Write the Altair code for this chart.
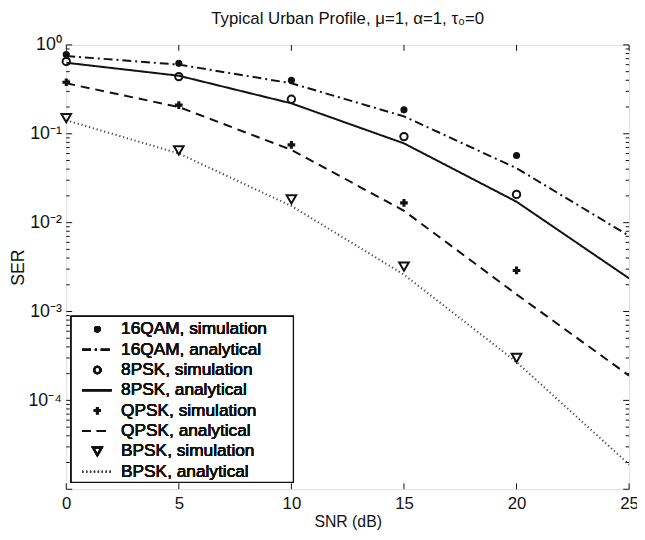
import altair as alt
import pandas as pd

# ---------------- data ----------------
snr_ana = [0, 5, 10, 15, 20, 25]
snr_sim = [0, 5, 10, 15, 20]

qam16_sim = [0.78, 0.62, 0.40, 0.186, 0.057]
qam16_ana = [0.75, 0.60, 0.37, 0.157, 0.041, 0.0071]
psk8_sim = [0.65, 0.44, 0.245, 0.093, 0.0208]
psk8_ana = [0.63, 0.45, 0.22, 0.078, 0.0172, 0.00236]
qpsk_sim = [0.38, 0.21, 0.075, 0.0167, 0.0029]
qpsk_ana = [0.37, 0.20, 0.066, 0.0136, 0.00156, 0.00019]
bpsk_sim = [0.15, 0.065, 0.0183, 0.0032, 0.0003]
bpsk_ana = [0.142, 0.06, 0.0154, 0.0026, 0.00027, 0.000019]

x_ticks = [0, 5, 10, 15, 20, 25]
y_major = [1e-5, 1e-4, 1e-3, 1e-2, 1e-1, 1.0]
y_minor = [k * 10.0 ** e for e in range(-5, 0) for k in range(2, 10)]

legend_labels = [
    "16QAM, simulation", "16QAM, analytical",
    "8PSK, simulation", "8PSK, analytical",
    "QPSK, simulation", "QPSK, analytical",
    "BPSK, simulation", "BPSK, analytical",
]

title_text = "Typical Urban Profile, \u03bc=1, \u03b1=1, \u03c4\u2080=0"

# ---------------- styling ----------------
FONT = "Liberation Sans"
W, H = 570, 450
INK = "#111111"

dash_styles = {
    "16QAM": [9, 4, 2, 4],
    "8PSK": [1, 0],
    "QPSK": [9, 6],
    "BPSK": [1.2, 2.8],
}
line_widths = {"16QAM": 2, "8PSK": 2, "QPSK": 2, "BPSK": 2}
line_colors = {"16QAM": INK, "8PSK": INK, "QPSK": INK, "BPSK": "#444444"}

xscale = alt.Scale(domain=[0, 25], nice=False, zero=False)
yscale = alt.Scale(type="log", domain=[1e-5, 1], nice=False)

ylabel_expr = (
    "datum.value > 0.5 ? '10\u2070' : datum.value > 0.05 ? '10\u207b\u00b9' : "
    "datum.value > 0.005 ? '10\u207b\u00b2' : datum.value > 0.0005 ? '10\u207b\u00b3' : "
    "datum.value > 0.00005 ? '10\u207b\u2074' : ''"
)

xaxis = alt.Axis(
    title="SNR (dB)", values=x_ticks, ticks=False, domain=False, grid=False,
    labelFont=FONT, labelFontSize=17, labelColor=INK, labelPadding=6,
    titleFont=FONT, titleFontSize=16, titleFontWeight="normal", titleColor=INK,
    titlePadding=3, labelFlush=False,
)
yaxis = alt.Axis(
    title="SER", values=[1e-4, 1e-3, 1e-2, 1e-1, 1.0], ticks=False, domain=False,
    grid=False, labelExpr=ylabel_expr,
    labelFont=FONT, labelFontSize=18, labelColor=INK, labelPadding=5,
    titleFont=FONT, titleFontSize=18, titleFontWeight="normal", titleColor=INK,
    titlePadding=1,
)

X = lambda f: alt.X(f, type="quantitative", scale=xscale, axis=xaxis)
Y = lambda f: alt.Y(f, type="quantitative", scale=yscale, axis=yaxis)

layers = []

# ---------------- analytical curves ----------------
series_ana = [("16QAM", qam16_ana), ("8PSK", psk8_ana), ("QPSK", qpsk_ana), ("BPSK", bpsk_ana)]
for name, vals in series_ana:
    df = pd.DataFrame({"snr": snr_ana, "ser": vals})
    layers.append(
        alt.Chart(df).mark_line(
            color=line_colors[name], strokeWidth=line_widths[name],
            strokeDash=dash_styles[name], clip=True,
        ).encode(x=X("snr"), y=Y("ser"))
    )

# ---------------- simulation markers ----------------
def sim_layer(vals, shape, size, filled, sw=2):
    df = pd.DataFrame({"snr": snr_sim, "ser": vals})
    return alt.Chart(df).mark_point(
        shape=shape, size=size, filled=filled,
        color=INK, strokeWidth=sw, opacity=1,
    ).encode(x=X("snr"), y=Y("ser"))

layers.append(sim_layer(qam16_sim, "circle", 52, True))
layers.append(sim_layer(psk8_sim, "circle", 56, False))
layers.append(sim_layer(qpsk_sim, "cross", 60, True, 0))
layers.append(sim_layer(bpsk_sim, "triangle-down", 95, False))

# ---------------- inside ticks (MATLAB style) ----------------
dfx = pd.DataFrame({"t": x_ticks})
layers.append(alt.Chart(dfx).mark_rule(color=INK, strokeWidth=1).encode(
    x=X("t"), y=alt.value(H), y2=alt.value(H - 6)))
layers.append(alt.Chart(dfx).mark_rule(color=INK, strokeWidth=1).encode(
    x=X("t"), y=alt.value(0), y2=alt.value(6)))

dfyM = pd.DataFrame({"t": y_major})
dfym = pd.DataFrame({"t": y_minor})
for df, ln in [(dfyM, 6), (dfym, 3.5)]:
    layers.append(alt.Chart(df).mark_rule(color=INK, strokeWidth=1).encode(
        y=Y("t"), x=alt.value(0), x2=alt.value(ln)))
    layers.append(alt.Chart(df).mark_rule(color=INK, strokeWidth=1).encode(
        y=Y("t"), x=alt.value(W), x2=alt.value(W - ln)))

# ---------------- legend (manual, MATLAB style) ----------------
LX0, LX1, LY0, LY1 = 5, 230, 275, 443
ROW0, ROWSTEP = 288, 20.6
SYM_X, LINE_X0, LINE_X1, TEXT_X = 31.5, 16, 46, 55.5

layers.append(alt.Chart(dfx).mark_rect(fill="white", stroke=INK, strokeWidth=1.3).encode(
    x=alt.value(LX0), x2=alt.value(LX1), y=alt.value(LY0), y2=alt.value(LY1)))

sim_styles = [("circle", 44, True), ("circle", 44, False), ("cross", 50, True), ("triangle-down", 80, False)]
for i, label in enumerate(legend_labels):
    yy = ROW0 + ROWSTEP * i
    name = label.split(",")[0]
    if i % 2 == 0:
        shape, size, filled = sim_styles[i // 2]
        layers.append(alt.Chart(dfx).mark_point(
            shape=shape, size=size, filled=filled, color=INK,
            strokeWidth=0 if shape == "cross" else 2, opacity=1,
        ).encode(x=alt.value(SYM_X), y=alt.value(yy)))
    else:
        layers.append(alt.Chart(dfx).mark_rule(
            color=line_colors[name], strokeWidth=line_widths[name],
            strokeDash=dash_styles[name],
        ).encode(x=alt.value(LINE_X0), x2=alt.value(LINE_X1), y=alt.value(yy)))
    layers.append(alt.Chart(dfx).mark_text(
        text=label, align="left", baseline="middle", font=FONT, fontSize=17.5, color=INK,
    ).encode(x=alt.value(TEXT_X), y=alt.value(yy)))

chart = alt.layer(*layers).properties(
    width=W, height=H,
    title=alt.TitleParams(
        text=title_text, font=FONT, fontSize=17, fontWeight="normal",
        color=INK, anchor="middle", offset=8,
    ),
    autosize=alt.AutoSizeParams(type="none"),
    padding={"left": 59, "top": 34, "right": 8, "bottom": 48},
).configure_view(stroke=INK, strokeWidth=1.3).configure(background="white")

chart.save("out.html", embed_options={"renderer": "svg", "actions": False})
